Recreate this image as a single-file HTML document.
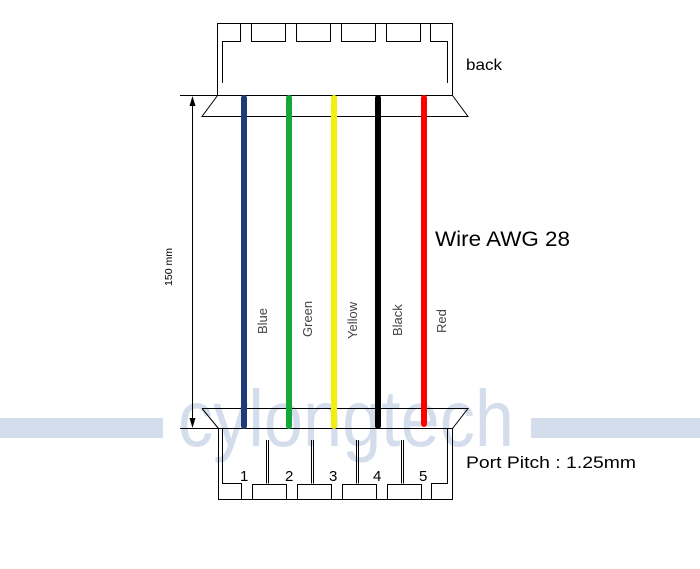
<!DOCTYPE html>
<html><head><meta charset="utf-8"><style>
html,body{margin:0;padding:0;background:#fff;}
svg{display:block;}
</style></head><body>
<svg width="700" height="569" viewBox="0 0 700 569" xmlns="http://www.w3.org/2000/svg" font-family="'Liberation Sans', sans-serif">
<rect x="0" y="418" width="163" height="20" fill="#d3ddec"/>
<rect x="531" y="418" width="169" height="20" fill="#d3ddec"/>
<text x="178" y="446" font-size="80" fill="#d3ddec" textLength="336" lengthAdjust="spacingAndGlyphs">cylongtech</text>

<g stroke="#000" stroke-width="1" fill="none">
<rect x="217.5" y="23.5" width="235" height="72"/>
<path d="M222.5 83 V41.5 H240.5 V23.5 M251.5 23.5 V41.5 H285.5 V23.5 M296.5 23.5 V41.5 H330.5 V23.5 M341.5 23.5 V41.5 H375.5 V23.5 M386.5 23.5 V41.5 H420.5 V23.5 M430.5 23.5 V41.5 H447.5 V83"/>
<path d="M180 95.5 H217.5 M217.5 95.5 L202 116.5 H468 L452.5 95.5"/>
<path d="M202 408.5 H468 L452.5 428.5 M202 408.5 L218.5 428.5 M180 428.5 H452.5"/>
<rect x="218.5" y="428.5" width="234" height="71"/>
<path d="M222.5 428.5 V483.5 H241.5 V499.5 M252.5 499.5 V484.5 H286.5 V499.5 M297.5 499.5 V484.5 H331.5 V499.5 M342.5 499.5 V484.5 H376.5 V499.5 M387.5 499.5 V484.5 H421.5 V499.5 M431.5 499.5 V483.5 H447.5 V428.5"/>
<path d="M266.5 440 V483.5 M268.5 440 V483.5 M311.5 440 V483.5 M313.5 440 V483.5 M356.5 440 V483.5 M358.5 440 V483.5 M401.5 440 V483.5 M403.5 440 V483.5"/>
</g>
<line x1="192.5" y1="100" x2="192.5" y2="424" stroke="#000"/>
<path d="M192.5 96 L189.5 106 L195.5 106 Z" fill="#000"/>
<path d="M192.5 428 L189.5 418 L195.5 418 Z" fill="#000"/>
<text transform="translate(172,286) rotate(-90)" font-size="10" fill="#000" textLength="38" lengthAdjust="spacingAndGlyphs">150 mm</text>

<g stroke-width="6" stroke-linecap="round">
<line x1="244" y1="98" x2="244" y2="426" stroke="#203a7a"/>
<line x1="289" y1="98" x2="289" y2="426" stroke="#13a838"/>
<line x1="334" y1="98" x2="334" y2="426" stroke="#f2ee10"/>
<line x1="378" y1="98" x2="378" y2="426" stroke="#000"/>
<line x1="424" y1="98" x2="424" y2="424" stroke="#f00"/>
</g>
<g font-size="13" fill="#444">
<text transform="translate(267,334) rotate(-90)">Blue</text>
<text transform="translate(312,337) rotate(-90)">Green</text>
<text transform="translate(357,339) rotate(-90)">Yellow</text>
<text transform="translate(402,336) rotate(-90)">Black</text>
<text transform="translate(446,333) rotate(-90)">Red</text>
</g>
<g font-size="15" fill="#000">
<text x="240" y="481">1</text>
<text x="285" y="481">2</text>
<text x="329" y="481">3</text>
<text x="373" y="481">4</text>
<text x="419" y="481">5</text>
</g>
<text x="466" y="70" font-size="16" fill="#000" textLength="36" lengthAdjust="spacingAndGlyphs">back</text>
<text x="435" y="246" font-size="21" fill="#000" textLength="135" lengthAdjust="spacingAndGlyphs">Wire AWG 28</text>
<text x="466" y="468" font-size="17" fill="#000" textLength="170" lengthAdjust="spacingAndGlyphs">Port Pitch : 1.25mm</text>
</svg>
</body></html>
